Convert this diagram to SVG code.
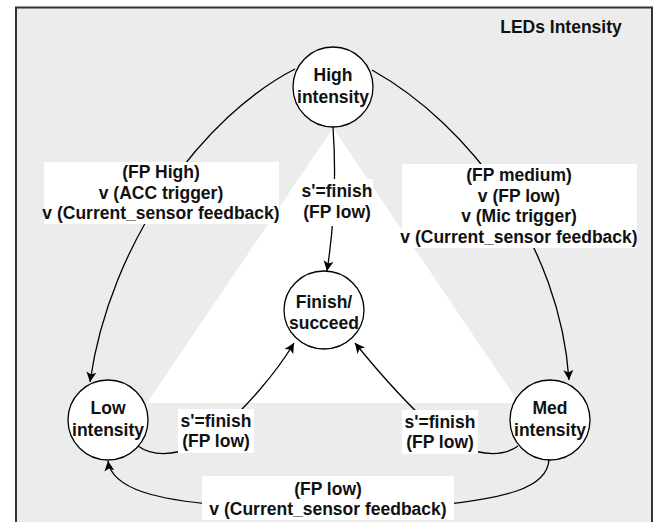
<svg xmlns="http://www.w3.org/2000/svg" width="660" height="522" viewBox="0 0 660 522">
<defs>
<marker id="arr" markerUnits="userSpaceOnUse" markerWidth="12" markerHeight="12" refX="10" refY="5" orient="auto" viewBox="0 0 12 10">
<path d="M0,0 L10,5 L0,10 L2.5,5 z" fill="#000"/>
</marker>
<style>
text{font-family:"Liberation Sans",Arial,sans-serif;font-weight:bold;font-size:17.5px;fill:#111;text-anchor:middle}
.node ellipse{fill:#fff;stroke:#000;stroke-width:1.3}
.edge{fill:none;stroke:#000;stroke-width:1.3}
.lbl{fill:#fff;stroke:none}
</style>
</defs>
<rect x="16" y="7.5" width="636" height="540" fill="#ececec" stroke="#333" stroke-width="2"/>
<polygon points="333,128 147,403 519,403" fill="#fff"/>
<text x="561" y="33">LEDs Intensity</text>
<g id="connectors">
<path class="edge" d="M295,69 C205,115 110,240 90,382" marker-end="url(#arr)"/>
<path class="edge" d="M372,70 C470,125 560,245 569,380" marker-end="url(#arr)"/>
<path class="edge" d="M333,127 Q338,200 327,271" marker-end="url(#arr)"/>
<path class="edge" d="M138,446 C160,462 200,450 220,430 C245,408 275,375 294,343" marker-end="url(#arr)"/>
<path class="edge" d="M518,446 C496,462 456,450 436,430 C411,408 381,375 355,343" marker-end="url(#arr)"/>
<path class="edge" d="M549,459 C548,490 500,498 440,505 L220,505 C160,500 112,490 108,461" marker-end="url(#arr)"/>
</g>
<g id="label-high-low">
<rect class="lbl" x="44" y="162" width="235" height="62"/>
<text x="161" y="178">(FP High)</text>
<text x="161" y="199">v (ACC trigger)</text>
<text x="161" y="219">v (Current_sensor feedback)</text>
</g>
<g id="label-high-med">
<rect class="lbl" x="402" y="164" width="235" height="84"/>
<text x="519" y="181">(FP medium)</text>
<text x="519" y="202">v (FP low)</text>
<text x="519" y="222">v (Mic trigger)</text>
<text x="519" y="243">v (Current_sensor feedback)</text>
</g>
<g id="label-high-finish">
<rect class="lbl" x="301" y="179" width="72" height="47"/>
<text x="337" y="197">s'=finish</text>
<text x="337" y="218">(FP low)</text>
</g>
<g id="label-low-finish">
<rect class="lbl" x="178" y="409" width="76" height="44"/>
<text x="216" y="427">s'=finish</text>
<text x="216" y="447">(FP low)</text>
</g>
<g id="label-med-finish">
<rect class="lbl" x="402" y="410" width="76" height="44"/>
<text x="440" y="428">s'=finish</text>
<text x="440" y="448">(FP low)</text>
</g>
<g id="label-med-low">
<rect class="lbl" x="202" y="476" width="252" height="44"/>
<text x="328" y="495">(FP low)</text>
<text x="328" y="515">v (Current_sensor feedback)</text>
</g>
<g id="node-high" class="node">
<ellipse cx="333" cy="87" rx="40" ry="40"/>
<text x="333" y="81">High</text>
<text x="333" y="103">intensity</text>
</g>
<g id="node-finish" class="node">
<ellipse cx="324" cy="310" rx="40" ry="39"/>
<text x="324" y="308">Finish/</text>
<text x="324" y="329">succeed</text>
</g>
<g id="node-low" class="node">
<ellipse cx="108" cy="420" rx="40" ry="40"/>
<text x="108" y="414">Low</text>
<text x="108" y="436">intensity</text>
</g>
<g id="node-med" class="node">
<ellipse cx="550" cy="420" rx="40" ry="40"/>
<text x="550" y="414">Med</text>
<text x="550" y="436">intensity</text>
</g>
</svg>
